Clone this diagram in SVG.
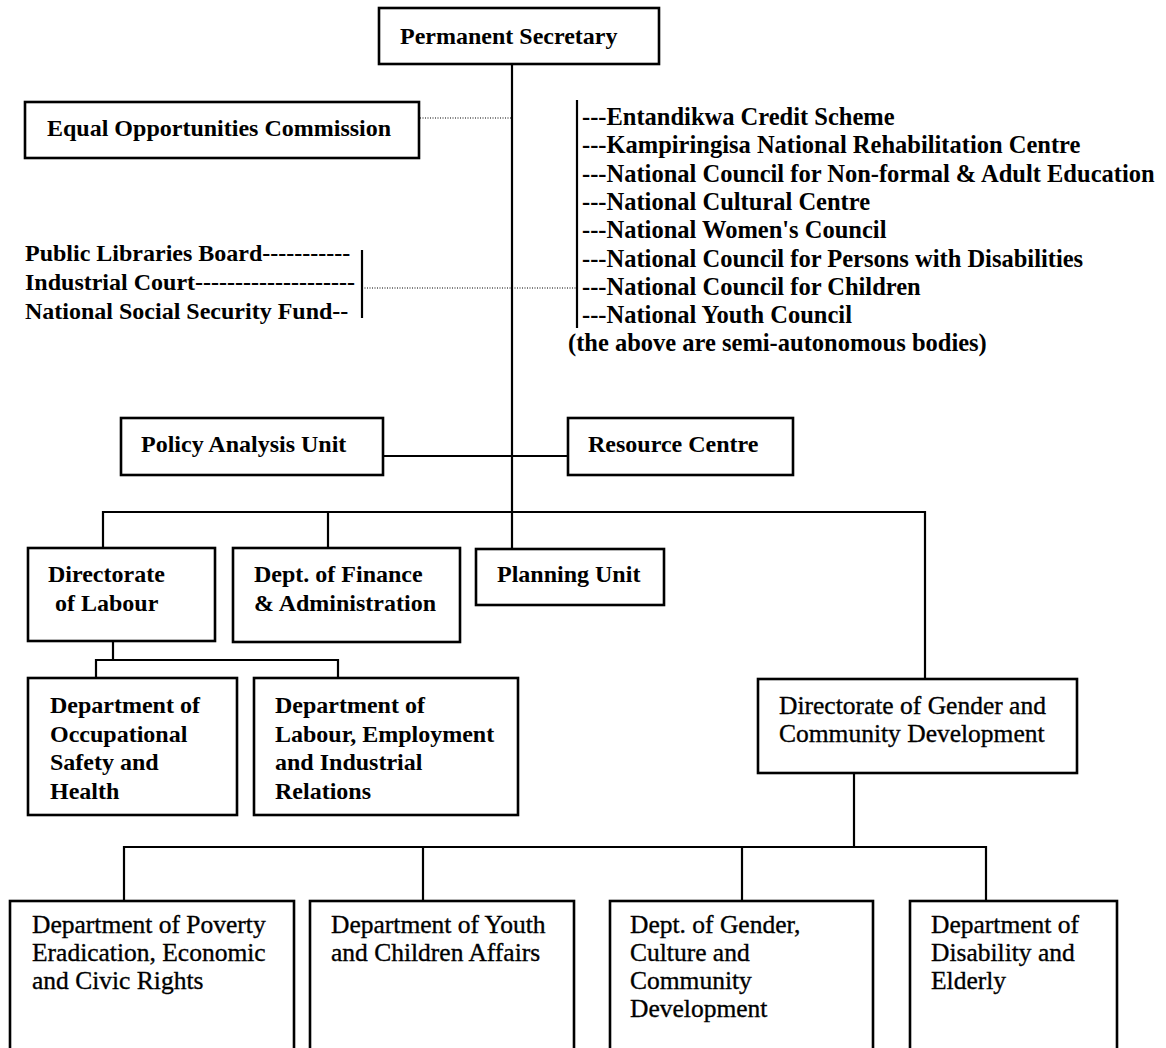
<svg xmlns="http://www.w3.org/2000/svg" width="1166" height="1048" viewBox="0 0 1166 1048">
<style>
.box{fill:#fff;stroke:#000;stroke-width:2.6}
.ln{stroke:#000;stroke-width:2.2;fill:none}
.dot{stroke:#000;stroke-width:1.2;stroke-dasharray:1 1.5;fill:none}
text{font-family:"Liberation Serif","Times New Roman",serif;fill:#000}
.b{font-weight:bold;font-size:24px}
.l{font-weight:bold;font-size:24.5px}
.r{font-size:25.5px;stroke:#000;stroke-width:0.35}
</style>
<rect width="1166" height="1048" fill="#fff"/>
<g id="connectors">
<line class="ln" x1="512" y1="64" x2="512" y2="549"/>
<line class="dot" x1="420" y1="118" x2="511" y2="118"/>
<line class="ln" x1="577" y1="100" x2="577" y2="328"/>
<line class="ln" x1="362" y1="250" x2="362" y2="318"/>
<line class="dot" x1="362" y1="288" x2="577" y2="288"/>
<line class="ln" x1="383" y1="456" x2="568" y2="456"/>
<polyline class="ln" points="103,548 103,512 925,512 925,679"/>
<line class="ln" x1="328" y1="512" x2="328" y2="548"/>
<line class="ln" x1="113" y1="641" x2="113" y2="660"/>
<polyline class="ln" points="96,678 96,660 338,660 338,678"/>
<line class="ln" x1="854" y1="773" x2="854" y2="847"/>
<polyline class="ln" points="124,901 124,847 986,847 986,901"/>
<line class="ln" x1="423" y1="847" x2="423" y2="901"/>
<line class="ln" x1="742" y1="847" x2="742" y2="901"/>
</g>
<g id="permanent-secretary">
<rect class="box" x="379" y="8" width="280" height="56"/>
<text class="b" x="400" y="44" font-size="23.5">Permanent Secretary</text>
</g>
<g id="equal-opportunities">
<rect class="box" x="25" y="102" width="394" height="56"/>
<text class="b" x="47" y="136">Equal Opportunities Commission</text>
</g>
<g id="left-bodies">
<text class="b" x="25" y="261">Public Libraries Board-----------</text>
<text class="b" x="25" y="290">Industrial Court--------------------</text>
<text class="b" x="25" y="319">National Social Security Fund--</text>
</g>
<g id="semi-autonomous">
<text class="l" x="582" y="125">---Entandikwa Credit Scheme</text>
<text class="l" x="582" y="153.3">---Kampiringisa National Rehabilitation Centre</text>
<text class="l" x="582" y="181.6">---National Council for Non-formal &amp; Adult Education</text>
<text class="l" x="582" y="209.9">---National Cultural Centre</text>
<text class="l" x="582" y="238.2">---National Women's Council</text>
<text class="l" x="582" y="266.5">---National Council for Persons with Disabilities</text>
<text class="l" x="582" y="294.8">---National Council for Children</text>
<text class="l" x="582" y="323.1">---National Youth Council</text>
<text class="l" x="568" y="351.4">(the above are semi-autonomous bodies)</text>
</g>
<g id="policy-analysis">
<rect class="box" x="121" y="418" width="262" height="57"/>
<text class="b" x="141" y="452" font-size="25">Policy Analysis Unit</text>
</g>
<g id="resource-centre">
<rect class="box" x="568" y="418" width="225" height="57"/>
<text class="b" x="588" y="452">Resource Centre</text>
</g>
<g id="directorate-labour">
<rect class="box" x="28" y="548" width="187" height="93"/>
<text class="b" x="48" y="582">Directorate</text>
<text class="b" x="55" y="611">of Labour</text>
</g>
<g id="finance-admin">
<rect class="box" x="233" y="548" width="227" height="94"/>
<text class="b" x="254" y="582">Dept. of Finance</text>
<text class="b" x="254" y="611">&amp; Administration</text>
</g>
<g id="planning-unit">
<rect class="box" x="476" y="549" width="188" height="56"/>
<text class="b" x="497" y="582">Planning Unit</text>
</g>
<g id="occupational-safety">
<rect class="box" x="28" y="678" width="209" height="137"/>
<text class="b" x="50" y="713">Department of</text>
<text class="b" x="50" y="742">Occupational</text>
<text class="b" x="50" y="770">Safety and</text>
<text class="b" x="50" y="799">Health</text>
</g>
<g id="labour-employment">
<rect class="box" x="254" y="678" width="264" height="137"/>
<text class="b" x="275" y="713">Department of</text>
<text class="b" x="275" y="742">Labour, Employment</text>
<text class="b" x="275" y="770">and Industrial</text>
<text class="b" x="275" y="799">Relations</text>
</g>
<g id="directorate-gender">
<rect class="box" x="758" y="679" width="319" height="94"/>
<text class="r" x="779" y="714">Directorate of Gender and</text>
<text class="r" x="779" y="742">Community Development</text>
</g>
<g id="poverty-eradication">
<rect class="box" x="10" y="901" width="284" height="170"/>
<text class="r" x="32" y="933">Department of Poverty</text>
<text class="r" x="32" y="961">Eradication, Economic</text>
<text class="r" x="32" y="989">and Civic Rights</text>
</g>
<g id="youth-children">
<rect class="box" x="310" y="901" width="264" height="170"/>
<text class="r" x="331" y="933">Department of Youth</text>
<text class="r" x="331" y="961">and Children Affairs</text>
</g>
<g id="gender-culture">
<rect class="box" x="610" y="901" width="263" height="170"/>
<text class="r" x="630" y="933">Dept. of Gender,</text>
<text class="r" x="630" y="961">Culture and</text>
<text class="r" x="630" y="989">Community</text>
<text class="r" x="630" y="1017">Development</text>
</g>
<g id="disability-elderly">
<rect class="box" x="910" y="901" width="207" height="170"/>
<text class="r" x="931" y="933">Department of</text>
<text class="r" x="931" y="961">Disability and</text>
<text class="r" x="931" y="989">Elderly</text>
</g>
</svg>
